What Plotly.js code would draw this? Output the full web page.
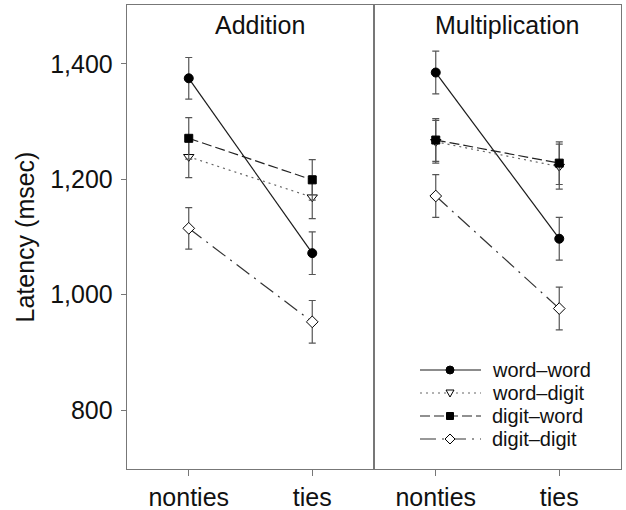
<!DOCTYPE html>
<html><head><meta charset="utf-8">
<script src="https://cdn.plot.ly/plotly-3.0.1.min.js"></script>
<style>html,body{margin:0;padding:0;background:#fff}</style>
</head><body><div id="chart" style="width:626px;height:510px"></div>
<script>
// ---- data ----
const categories = ['nonties', 'ties'];
const panels = ['Addition', 'Multiplication'];
const seriesNames = ['word\u2013word', 'word\u2013digit', 'digit\u2013word', 'digit\u2013digit'];

// Addition: means and error half-widths (msec)
const addWordWord = [1375, 1072];
const addWordDigit = [1239, 1169];
const addDigitWord = [1271, 1199];
const addDigitDigit = [1115, 953];
const addErrWordWord = [36, 37];
const addErrWordDigit = [36, 37];
const addErrDigitWord = [36, 35];
const addErrDigitDigit = [36, 37];

// Multiplication
const mulWordWord = [1385, 1097];
const mulWordDigit = [1265, 1222];
const mulDigitWord = [1268, 1228];
const mulDigitDigit = [1171, 976];
const mulErrWordWord = [37, 37];
const mulErrWordDigit = [37, 39];
const mulErrDigitWord = [37, 37];
const mulErrDigitDigit = [37, 37];

const yTickVals = [800, 1000, 1200, 1400];

// ---- styles ----
const FONT = 'Liberation Sans, Arial, Helvetica, sans-serif';
const styles = [
  {dash: 'solid', color: '#1a1a1a', symbol: 'circle', size: 9, fill: '#000', shapeType: 'circle'},
  {dash: '2px,4px', color: '#666', symbol: 'triangle-down', size: 9, fill: '#fff', shapeType: 'tri'},
  {dash: '10px,4px', color: '#222', symbol: 'square', size: 8, fill: '#000', shapeType: 'rect'},
  {dash: '16px,6px,2px,6px', color: '#333', symbol: 'diamond', size: 9, fill: '#fff', shapeType: 'diamond'}
];

const panelData = [
  {vals: [addWordWord, addWordDigit, addDigitWord, addDigitDigit],
   errs: [addErrWordWord, addErrWordDigit, addErrDigitWord, addErrDigitDigit]},
  {vals: [mulWordWord, mulWordDigit, mulDigitWord, mulDigitDigit],
   errs: [mulErrWordWord, mulErrWordDigit, mulErrDigitWord, mulErrDigitDigit]}
];

const traces = [];
panelData.forEach((pd, p) => {
  pd.vals.forEach((v, s) => {
    const st = styles[s];
    traces.push({
      type: 'scatter', mode: 'lines+markers',
      x: categories, y: v,
      xaxis: p === 0 ? 'x' : 'x2', yaxis: p === 0 ? 'y' : 'y2',
      name: seriesNames[s], showlegend: false,
      line: {color: st.color, width: 1.2, dash: st.dash},
      marker: {symbol: st.symbol, size: st.size, color: st.fill,
               line: {color: '#000', width: 1}},
      error_y: {type: 'data', array: pd.errs[s], visible: true, color: '#555', thickness: 1.2, width: 3.5}
    });
  });
});

// ---- layout ----
const M = {l: 127, r: 5, t: 5, b: 41};
const W = 626, H = 510;
const PW = W - M.l - M.r, PH = H - M.t - M.b;
const px2x = px => (px - M.l) / PW;
const px2y = py => 1 - (py - M.t) / PH;

const axisCommon = {
  type: 'category', range: [-0.5, 1.5], showline: true, mirror: true,
  linecolor: '#777', linewidth: 1.3, ticks: 'outside', ticklen: 6, tickcolor: '#777',
  tickfont: {family: FONT, size: 25, color: '#111'}, showgrid: false, zeroline: false,
  fixedrange: true
};
const yCommon = {
  range: [698, 1502], showline: true, mirror: true, linecolor: '#777', linewidth: 1.3,
  showgrid: false, zeroline: false, tickvals: yTickVals, tickformat: ',d'
};

const annotations = panels.map((name, p) => ({
  text: name, xref: p === 0 ? 'x domain' : 'x2 domain', yref: 'paper',
  x: 0.54, y: px2y(25), xanchor: 'center', yanchor: 'middle', showarrow: false,
  font: {family: FONT, size: 25, color: '#111'}
}));

// manual legend
const legendRows = [370, 393, 416, 439];
const shapes = [];
seriesNames.forEach((nm, s) => {
  const st = styles[s];
  const yp = px2y(legendRows[s]);
  shapes.push({type: 'line', xref: 'paper', yref: 'paper', x0: px2x(420), x1: px2x(481), y0: yp, y1: yp,
               line: {color: st.color, width: 1.2, dash: st.dash}});
  const base = {xref: 'paper', yref: 'paper', xsizemode: 'pixel', ysizemode: 'pixel',
                xanchor: px2x(450), yanchor: yp, fillcolor: st.fill, line: {color: '#000', width: 1}};
  if (st.shapeType === 'circle') shapes.push(Object.assign({type: 'circle', x0: -4, x1: 4, y0: -4, y1: 4}, base));
  else if (st.shapeType === 'rect') shapes.push(Object.assign({type: 'rect', x0: -3.5, x1: 3.5, y0: -3.5, y1: 3.5}, base));
  else if (st.shapeType === 'tri') shapes.push(Object.assign({type: 'path', path: 'M-4,3L4,3L0,-4Z'}, base));
  else shapes.push(Object.assign({type: 'path', path: 'M0,5L5,0L0,-5L-5,0Z'}, base));
  annotations.push({text: nm, xref: 'paper', yref: 'paper', x: px2x(490), y: yp, xanchor: 'left',
                    yanchor: 'middle', showarrow: false,
                    font: {family: FONT, size: 20, color: '#111'}});
});

const layout = {
  width: W, height: H, margin: M, paper_bgcolor: '#fff', plot_bgcolor: '#fff',
  showlegend: false, font: {family: FONT, color: '#111'},
  xaxis: Object.assign({}, axisCommon, {domain: [0, 0.5], anchor: 'y'}),
  xaxis2: Object.assign({}, axisCommon, {domain: [0.5, 1], anchor: 'y2'}),
  yaxis: Object.assign({}, yCommon, {anchor: 'x', ticks: 'outside', ticklen: 5, tickcolor: '#777',
    tickfont: {family: FONT, size: 25, color: '#111'}, ticklabelstandoff: 3,
    title: {text: 'Latency (msec)', font: {family: FONT, size: 25, color: '#111'}, standoff: 8}}),
  yaxis2: Object.assign({}, yCommon, {anchor: 'x2', matches: 'y', showticklabels: false, ticks: ''}),
  annotations: annotations, shapes: shapes
};

Plotly.newPlot('chart', traces, layout, {staticPlot: true, displayModeBar: false});
</script></body></html>
